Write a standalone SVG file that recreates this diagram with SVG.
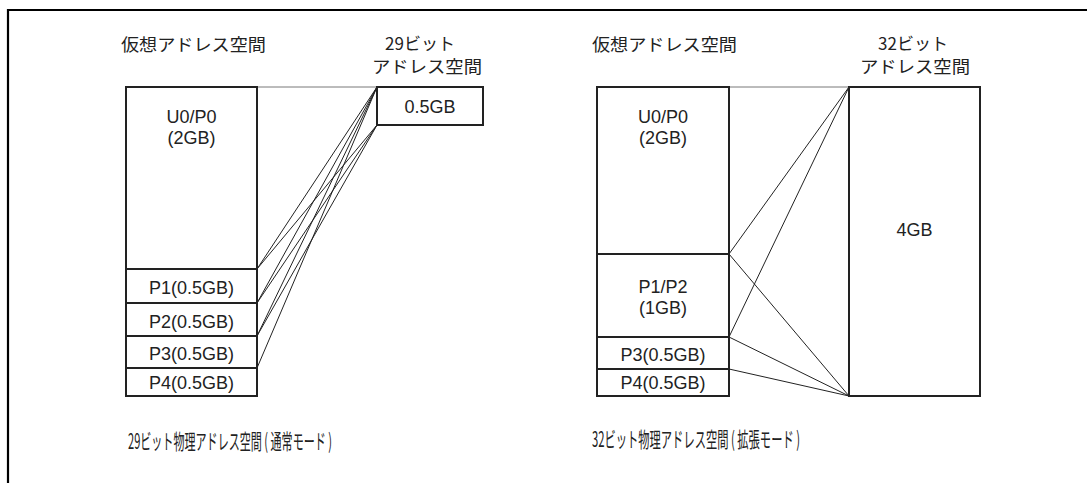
<svg xmlns="http://www.w3.org/2000/svg" width="1087" height="483" viewBox="0 0 1087 483">
<style>
.box{fill:#fff;stroke:#222;stroke-width:2}
.ln{stroke:#222;stroke-width:1;fill:none}
.thin{stroke:#555;stroke-width:0.8;fill:none}
.t{font-family:"Liberation Sans","Noto Sans CJK JP",sans-serif;font-size:18px;fill:#222;text-anchor:middle}
.j{font-family:"Noto Sans CJK JP","Liberation Sans",sans-serif;font-size:17px;fill:#222}
.b{font-family:"Noto Sans CJK JP","Liberation Sans",sans-serif;font-size:21px;fill:#222}
</style>
<rect width="1087" height="483" fill="#fff"/>
<g id="frame">
<path d="M8,483 V10 H1087" stroke="#000" stroke-width="2.2" fill="none"/>
</g>
<g id="connectors">
<line class="thin" x1="257" y1="87" x2="377" y2="87"/>
<line class="ln" x1="257" y1="269" x2="377" y2="87"/>
<line class="ln" x1="257" y1="269" x2="377" y2="125"/>
<line class="ln" x1="257" y1="303" x2="377" y2="87"/>
<line class="ln" x1="257" y1="303" x2="377" y2="125"/>
<line class="ln" x1="257" y1="336" x2="377" y2="87"/>
<line class="ln" x1="257" y1="336" x2="377" y2="125"/>
<line class="ln" x1="257" y1="368" x2="377" y2="87"/>
<line class="thin" x1="729" y1="87" x2="849" y2="87"/>
<line class="ln" x1="729" y1="254" x2="849" y2="87"/>
<line class="ln" x1="729" y1="337" x2="849" y2="87"/>
<line class="ln" x1="729" y1="254" x2="849" y2="396"/>
<line class="ln" x1="729" y1="337" x2="849" y2="396"/>
<line class="ln" x1="729" y1="369" x2="849" y2="396"/>
</g>
<g id="left-headers">
<text class="j" x="121" y="51" textLength="145" lengthAdjust="spacingAndGlyphs">仮想アドレス空間</text>
<text class="j" x="420" y="50" text-anchor="middle">29ビット</text>
<text class="j" x="427" y="73" text-anchor="middle" textLength="110" lengthAdjust="spacingAndGlyphs">アドレス空間</text>
</g>
<g id="left-u0p0">
<rect class="box" x="126" y="87" width="131" height="182"/>
<text class="t" x="191.5" y="123">U0/P0</text>
<text class="t" x="191.5" y="144">(2GB)</text>
</g>
<g id="left-p1">
<rect class="box" x="126" y="269" width="131" height="34"/>
<text class="t" x="191.5" y="294">P1(0.5GB)</text>
</g>
<g id="left-p2">
<rect class="box" x="126" y="303" width="131" height="33"/>
<text class="t" x="191.5" y="328">P2(0.5GB)</text>
</g>
<g id="left-p3">
<rect class="box" x="126" y="336" width="131" height="32"/>
<text class="t" x="191.5" y="360">P3(0.5GB)</text>
</g>
<g id="left-p4">
<rect class="box" x="126" y="368" width="131" height="28"/>
<text class="t" x="191.5" y="389">P4(0.5GB)</text>
</g>
<g id="phys29">
<rect class="box" x="377" y="87" width="106" height="38"/>
<text class="t" x="430" y="113">0.5GB</text>
</g>
<g id="right-headers">
<text class="j" x="592" y="51" textLength="145" lengthAdjust="spacingAndGlyphs">仮想アドレス空間</text>
<text class="j" x="913" y="50" text-anchor="middle">32ビット</text>
<text class="j" x="915" y="73" text-anchor="middle" textLength="110" lengthAdjust="spacingAndGlyphs">アドレス空間</text>
</g>
<g id="right-u0p0">
<rect class="box" x="597" y="87" width="132" height="167"/>
<text class="t" x="663" y="123">U0/P0</text>
<text class="t" x="663" y="144">(2GB)</text>
</g>
<g id="right-p1p2">
<rect class="box" x="597" y="254" width="132" height="83"/>
<text class="t" x="663" y="293">P1/P2</text>
<text class="t" x="663" y="314">(1GB)</text>
</g>
<g id="right-p3">
<rect class="box" x="597" y="337" width="132" height="32"/>
<text class="t" x="663" y="361">P3(0.5GB)</text>
</g>
<g id="right-p4">
<rect class="box" x="597" y="369" width="132" height="27"/>
<text class="t" x="663" y="389">P4(0.5GB)</text>
</g>
<g id="phys32">
<rect class="box" x="849" y="87" width="131" height="309"/>
<text class="t" x="914.5" y="236">4GB</text>
</g>
<g id="captions">
<text class="b" x="128" y="449" textLength="204" lengthAdjust="spacingAndGlyphs">29ビット物理アドレス空間 ( 通常モード )</text>
<text class="b" x="592" y="447" textLength="208" lengthAdjust="spacingAndGlyphs">32ビット物理アドレス空間 ( 拡張モード )</text>
</g>
</svg>
